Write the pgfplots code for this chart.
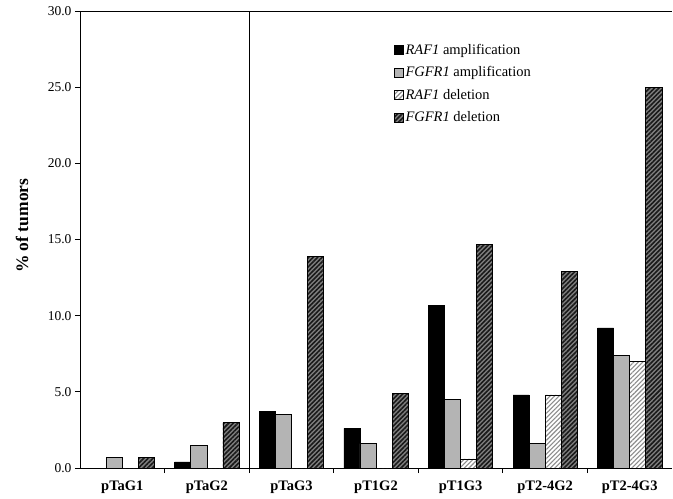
\documentclass[border=0pt]{standalone}
\usepackage{fontspec}
\setmainfont{Liberation Serif}
\usepackage{pgfplots}
\pgfplotsset{compat=1.18}
\usetikzlibrary{patterns.meta}
\definecolor{ampgray}{HTML}{B4B4B4}
\begin{document}
\begin{tikzpicture}
\begin{axis}[
  scale only axis, width=592pt, height=457pt,
  ybar=0pt, bar width=0.19,
  xmin=-0.5, xmax=6.5, ymin=0, ymax=30,
  axis x line*=bottom, axis y line*=left,
  xtick={0.5,1.5,...,5.5},
  xticklabels={},
  extra x ticks={0,1,2,3,4,5,6},
  extra x tick labels={pTaG1,pTaG2,pTaG3,pT1G2,pT1G3,pT2-4G2,pT2-4G3},
  extra x tick style={major tick length=0pt, tick label style={font=\fontsize{14.5}{16}\selectfont\bfseries, yshift=-9pt}},
  ytick={0,5,...,30},
  y tick label style={font=\fontsize{13.5}{16}\selectfont, /pgf/number format/.cd, fixed, fixed zerofill, precision=1},
  /pgf/number format/assume math mode=true,
  tick align=outside, major tick length=5pt,
  tick style={black, line width=0.8pt},
  axis line style={line width=0.8pt},
  ylabel={\% of tumors},
  ylabel style={font=\fontsize{17.5}{19}\selectfont\bfseries, at={(axis description cs:-0.098,0.53)}, anchor=center},
  legend style={at={(axis description cs:0.53,0.933)}, anchor=north west, draw=none, fill=none,
     font=\fontsize{14.5}{16}\selectfont, row sep=7pt, inner sep=0pt,
     /tikz/every even column/.append style={column sep=6pt}},
  legend cell align=left,
  legend image code/.code={\draw[#1, line width=0.6pt] (0pt,-4.5pt) rectangle (9pt,4.5pt);},
]
\addplot[draw=black, fill=black, line width=0.6pt] coordinates {(0,0) (1,0.4) (2,3.7) (3,2.6) (4,10.7) (5,4.8) (6,9.2)};
\addplot[draw=black, fill=ampgray, line width=0.6pt] coordinates {(0,0.7) (1,1.5) (2,3.5) (3,1.6) (4,4.5) (5,1.6) (6,7.4)};
\addplot[draw=black, fill=white, line width=0.6pt, postaction={pattern={Lines[angle=45, distance=3.2pt, line width=1.1pt]}, pattern color=black!45}] coordinates {(0,0) (1,0) (2,0) (3,0) (4,0.6) (5,4.8) (6,7.0)};
\addplot[draw=black, fill=black!50, line width=0.6pt, postaction={pattern={Lines[angle=45, distance=3.2pt, line width=1.6pt]}, pattern color=black!90}] coordinates {(0,0.7) (1,3.0) (2,13.9) (3,4.9) (4,14.7) (5,12.9) (6,25.0)};
\legend{\textit{RAF1} amplification, \textit{FGFR1} amplification, \textit{RAF1} deletion, \textit{FGFR1} deletion}
\draw[line width=0.8pt] (rel axis cs:0,1) -- (rel axis cs:1,1);
\draw[line width=0.8pt] (axis cs:1.5,0) -- (axis cs:1.5,30);
\draw[line width=0.8pt] (rel axis cs:0,1) -- ++(-5pt,0pt);
\coordinate (bl) at (rel axis cs:0,0);
\coordinate (tr) at (rel axis cs:1,1);
\end{axis}
\pgfresetboundingbox
\path ([shift={(-80pt,-30pt)}]bl) rectangle ([shift={(1pt,11pt)}]tr);
\end{tikzpicture}
\end{document}
